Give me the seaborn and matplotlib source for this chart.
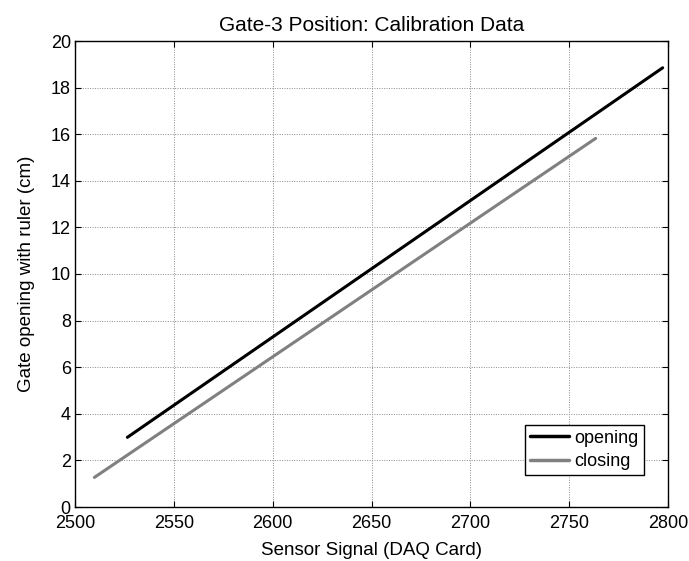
import matplotlib
matplotlib.use("Agg")
import matplotlib.pyplot as plt
import seaborn as sns
import pandas as pd

# Data
opening_x = [2526.5, 2797.3]
opening_y = [2.99, 18.85]
closing_x = [2509.8, 2763.4]
closing_y = [1.27, 15.82]

x_ticks = [2500, 2550, 2600, 2650, 2700, 2750, 2800]
y_ticks = [0, 2, 4, 6, 8, 10, 12, 14, 16, 18, 20]

df = pd.DataFrame({
    "x": opening_x + closing_x,
    "y": opening_y + closing_y,
    "series": ["opening"] * len(opening_x) + ["closing"] * len(closing_x),
})

sns.set_theme(style="ticks")
plt.rcParams["font.family"] = ["Liberation Sans", "DejaVu Sans"]
plt.rcParams["text.color"] = "black"
plt.rcParams["axes.labelcolor"] = "black"

fig = plt.figure(figsize=(6.89, 5.61), dpi=100)
ax = fig.add_axes([75 / 689, 1 - 507 / 561, (668 - 75) / 689, (507 - 41) / 561])

sns.lineplot(data=df, x="x", y="y", hue="series", palette={"opening": "black", "closing": "#808080"},
             linewidth=2.2, ax=ax, sort=False, estimator=None)

ax.set_xlim(2500, 2800)
ax.set_ylim(0, 20)
ax.set_xticks(x_ticks)
ax.set_yticks(y_ticks)
ax.tick_params(direction="in", length=4, width=0.8, labelsize=13, colors="black", top=True, right=True)
ax.tick_params(axis="x", pad=6)
ax.tick_params(axis="y", pad=3)
ax.grid(True, color="#8a8a8a", linestyle=(0, (1, 1.5)), linewidth=0.7)
for s in ax.spines.values():
    s.set_color("black")
    s.set_linewidth(1.0)

ax.set_title("Gate-3 Position: Calibration Data", fontsize=15, pad=7, color="black")
ax.set_xlabel("Sensor Signal (DAQ Card)", fontsize=13.5, labelpad=7, color="black")
ax.set_ylabel("Gate opening with ruler (cm)", fontsize=13.5, labelpad=11, color="black")

leg = ax.legend(loc="lower right", bbox_to_anchor=(0.9595, 0.0687), fontsize=13, frameon=True,
                fancybox=False, edgecolor="black", framealpha=1, handlelength=2.15,
                borderpad=0.28, labelspacing=0.35, handletextpad=0.33, borderaxespad=0)
leg.get_frame().set_linewidth(1.0)
for line in leg.get_lines():
    line.set_linewidth(2.5)
for t in leg.get_texts():
    t.set_color("black")

fig.savefig("out.png", dpi=100)
